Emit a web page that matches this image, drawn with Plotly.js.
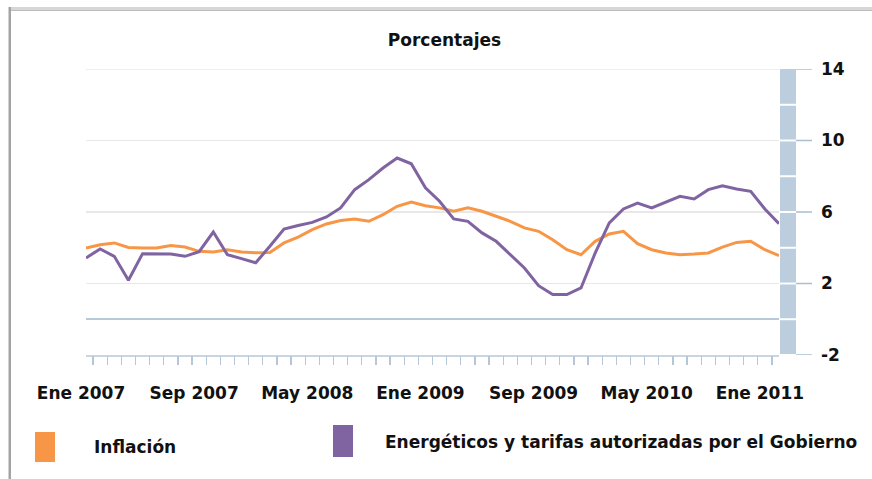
<!DOCTYPE html>
<html>
<head>
<meta charset="utf-8">
<script src="https://cdn.plot.ly/plotly-3.0.1.min.js"></script>
<style>html,body{margin:0;padding:0;background:#fff;}#chart{width:872px;height:479px;}</style>
</head>
<body>
<div id="chart"></div>
<script>
// Months (Ene 2007 .. Feb 2011)
const months = [
  'Ene 2007','Feb 2007','Mar 2007','Abr 2007','May 2007','Jun 2007','Jul 2007','Ago 2007','Sep 2007','Oct 2007','Nov 2007','Dic 2007',
  'Ene 2008','Feb 2008','Mar 2008','Abr 2008','May 2008','Jun 2008','Jul 2008','Ago 2008','Sep 2008','Oct 2008','Nov 2008','Dic 2008',
  'Ene 2009','Feb 2009','Mar 2009','Abr 2009','May 2009','Jun 2009','Jul 2009','Ago 2009','Sep 2009','Oct 2009','Nov 2009','Dic 2009',
  'Ene 2010','Feb 2010','Mar 2010','Abr 2010','May 2010','Jun 2010','Jul 2010','Ago 2010','Sep 2010','Oct 2010','Nov 2010','Dic 2010',
  'Ene 2011','Feb 2011'
];
const xTickLabels = ['Ene 2007','Sep 2007','May 2008','Ene 2009','Sep 2009','May 2010','Ene 2011'];
const yTickValues = [-2, 2, 6, 10, 14];
const inflacion = [
  3.99,4.17,4.27,4.02,3.99,3.99,4.13,4.04,3.80,3.76,3.89,3.76,
  3.72,3.74,4.27,4.60,5.01,5.33,5.52,5.61,5.48,5.85,6.32,6.56,
  6.35,6.23,6.04,6.23,6.04,5.76,5.48,5.11,4.92,4.45,3.89,3.61,
  4.36,4.77,4.92,4.23,3.89,3.71,3.61,3.65,3.71,4.04,4.30,4.36,
  3.89,3.56
];
const energeticos = [
  3.43,3.93,3.52,2.18,3.67,3.67,3.65,3.52,3.78,4.88,3.61,3.39,
  3.16,4.08,5.05,5.24,5.42,5.72,6.23,7.25,7.81,8.46,9.02,8.70,
  7.35,6.60,5.61,5.48,4.83,4.36,3.61,2.87,1.88,1.38,1.38,1.75,
  3.70,5.39,6.17,6.50,6.23,6.54,6.88,6.73,7.25,7.47,7.29,7.16,
  6.17,5.35
];
const seriesNames = ['Inflación', 'Energéticos y tarifas autorizadas por el Gobierno'];
const seriesColors = ['#f79646', '#8064a2'];

// layout helpers: pixel -> paper
const L = 86, R = 779, T = 69, B = 355, W = 872, H = 479;
const px = x => (x - L) / (R - L);
const py = y => (B - y) / (B - T);

const FONT = {family: 'DejaVu Sans, Verdana, sans-serif', size: 17, color: '#111111', weight: 'bold'};

const traces = [
  {x: months, y: inflacion, type: 'scatter', mode: 'lines', name: seriesNames[0],
   line: {color: seriesColors[0], width: 3}, hoverinfo: 'skip'},
  {x: months, y: energeticos, type: 'scatter', mode: 'lines', name: seriesNames[1],
   line: {color: seriesColors[1], width: 3}, hoverinfo: 'skip'}
];

const shapes = [];
// outer frame
shapes.push({type: 'rect', xref: 'paper', yref: 'paper', x0: px(9), x1: px(W), y0: py(7), y1: py(11), fillcolor: '#d6d6d6', line: {width: 0}, layer: 'below'});
shapes.push({type: 'line', xref: 'paper', yref: 'paper', x0: px(9), x1: px(W), y0: py(10.5), y1: py(10.5), line: {color: '#bdbdbd', width: 1}, layer: 'below'});
shapes.push({type: 'rect', xref: 'paper', yref: 'paper', x0: px(8.5), x1: px(11), y0: py(7), y1: py(H), fillcolor: '#a3a3a3', line: {width: 0}, layer: 'below'});
// top gridline (at range edge)
shapes.push({type: 'line', xref: 'paper', yref: 'y', x0: 0, x1: 1, y0: 14, y1: 14, line: {color: '#e8e8e8', width: 1.5}, layer: 'below'});
// right band
shapes.push({type: 'rect', xref: 'paper', yref: 'y', x0: px(780), x1: px(796), y0: -2.3, y1: 14, fillcolor: '#bccddd', line: {width: 0}, layer: 'above'});
for (let v = -2; v < 14; v += 2) {
  shapes.push({type: 'line', xref: 'paper', yref: 'y', x0: px(780), x1: px(796), y0: v, y1: v, line: {color: '#ffffff', width: 2}, layer: 'above'});
}
// right tick marks
yTickValues.forEach(v => {
  shapes.push({type: 'line', xref: 'paper', yref: 'y', x0: px(796), x1: px(812), y0: v, y1: v, line: {color: '#a9bed3', width: 1.5}, layer: 'above'});
});
// legend swatches
shapes.push({type: 'rect', xref: 'paper', yref: 'paper', x0: px(35), x1: px(55), y0: py(462), y1: py(432), fillcolor: seriesColors[0], line: {width: 0}});
shapes.push({type: 'rect', xref: 'paper', yref: 'paper', x0: px(333), x1: px(353), y0: py(457), y1: py(425), fillcolor: seriesColors[1], line: {width: 0}});

const annotations = [
  {xref: 'paper', yref: 'paper', x: px(92), y: py(447), text: seriesNames[0], showarrow: false, xanchor: 'left', yanchor: 'middle', font: FONT},
  {xref: 'paper', yref: 'paper', x: px(383), y: py(442), text: seriesNames[1], showarrow: false, xanchor: 'left', yanchor: 'middle', font: FONT}
];

const layout = {
  width: W, height: H,
  margin: {l: L, r: W - R, t: T, b: H - B, pad: 0},
  paper_bgcolor: '#ffffff', plot_bgcolor: '#ffffff',
  showlegend: false,
  font: FONT,
  title: {text: 'Porcentajes', font: FONT, xref: 'container', yref: 'container', x: 444.5 / W, y: 1 - 40 / H, xanchor: 'center', yanchor: 'middle'},
  xaxis: {
    type: 'category', categoryarray: months, categoryorder: 'array',
    range: [0, months.length - 1],
    tickmode: 'array', tickvals: xTickLabels, ticktext: xTickLabels,
    ticks: '', showgrid: false, zeroline: false,
    showline: true, linecolor: '#c9d5e1', linewidth: 1.5,
    ticklabelstandoff: 22, ticklabelshift: -5,
    tickfont: FONT, fixedrange: true
  },
  xaxis2: {
    overlaying: 'x', anchor: 'y', side: 'bottom', type: 'linear',
    range: [0, months.length - 1], tickmode: 'linear', tick0: 0.5, dtick: 1,
    ticks: 'outside', ticklen: 9, tickwidth: 1.2, tickcolor: '#b4c6d8',
    showticklabels: false, showgrid: false, zeroline: false, showline: false, fixedrange: true
  },
  yaxis: {
    side: 'right', range: [-2, 14],
    tickmode: 'array', tickvals: yTickValues, ticktext: yTickValues.map(String),
    ticks: '', showgrid: true, gridcolor: '#e8e8e8', gridwidth: 1.5,
    zeroline: true, zerolinecolor: '#b8c9da', zerolinewidth: 2,
    showline: false, ticklabelstandoff: 41,
    tickfont: FONT, fixedrange: true
  },
  shapes: shapes,
  annotations: annotations
};

// dummy trace so xaxis2 is drawn
traces.push({x: [0, months.length - 1], y: [null, null], xaxis: 'x2', yaxis: 'y', type: 'scatter', mode: 'lines', showlegend: false, hoverinfo: 'skip'});

Plotly.newPlot('chart', traces, layout, {staticPlot: true, displayModeBar: false});
</script>
</body>
</html>
